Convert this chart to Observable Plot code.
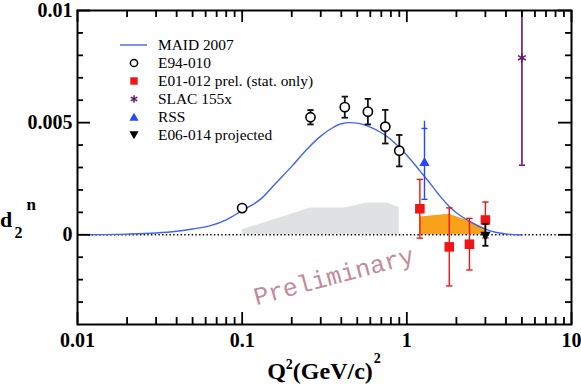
<!DOCTYPE html>
<html><head><meta charset="utf-8">
<script src="https://cdn.jsdelivr.net/npm/d3@7"></script>
<script src="https://cdn.jsdelivr.net/npm/@observablehq/plot@0.6"></script>
<style>
html,body{margin:0;padding:0;background:#fff;}
#chart svg{display:block;}
</style></head><body><div id="chart"></div>
<script>
// ---- data ----
// MAID 2007 model curve
const maidQ2 = [0.01, 0.02, 0.03, 0.04, 0.05, 0.065, 0.08, 0.1, 0.13, 0.16, 0.2, 0.25, 0.3, 0.35, 0.4, 0.45, 0.5, 0.6, 0.7, 0.8, 0.9, 1.0, 1.2, 1.4, 1.6, 1.8, 2.0, 2.4, 3.0, 3.5, 4.0, 5.0];
const maidD2 = [0.0, 0.00003, 0.00008, 0.00016, 0.00026, 0.00042, 0.00067, 0.00108, 0.0016, 0.0023, 0.00305, 0.00385, 0.0044, 0.00475, 0.00495, 0.005, 0.00498, 0.0048, 0.00455, 0.00425, 0.0039, 0.00355, 0.00285, 0.00225, 0.0017, 0.00128, 0.00098, 0.0006, 0.00025, 0.0001, 0.00004, -0.00001];
// E94-010 (open circles)
const e94Q2 = [0.1, 0.26, 0.42, 0.58, 0.74, 0.90];
const e94D2 = [0.00119, 0.00524, 0.00569, 0.00549, 0.00482, 0.00375];
const e94Err = [0.00004, 0.00032, 0.00047, 0.00057, 0.00075, 0.0007];
// E94-010 systematic band (grey)
const e94SysQ2 = [0.1, 0.26, 0.42, 0.574, 0.76, 0.9];
const e94SysD2 = [0.00022, 0.00119, 0.00119, 0.00142, 0.00142, 0.00122];
// E01-012 prel. (red squares)
const e01Q2 = [1.2, 1.81, 2.4, 3.0];
const e01D2 = [0.00116, -0.00054, -0.00042, 0.00066];
const e01Err = [0.00131, 0.00174, 0.00115, 0.0008];
// E01-012 systematic band (orange)
const e01SysQ2 = [1.2, 1.8, 2.4, 3.0];
const e01SysD2 = [0.00079, 0.00092, 0.00062, 0.00028];
// SLAC 155x
const slacQ2 = [5.0];
const slacD2 = [0.00789];
const slacLo = [0.0031];
const slacHi = [0.0127];
// RSS
const rssQ2 = [1.28];
const rssD2 = [0.0032];
const rssLo = [0.00158];
const rssHi = [0.00506];
const rssCapHi = [0.00474];
// E06-014 projected
const e06Q2 = [3.0];
const e06D2 = [0.0];
const e06Err = [0.00049];
// axes
const xMajor = [0.01, 0.1, 1, 10];
const xLabels = ["0.01", "0.1", "1", "10"];
const xMinor = [0.02,0.03,0.04,0.05,0.06,0.07,0.08,0.09,0.2,0.3,0.4,0.5,0.6,0.7,0.8,0.9,2,3,4,5,6,7,8,9];
const yMajor = [0, 0.005, 0.01];
const yLabels = ["0", "0.005", "0.01"];
const yMinor = [-0.003,-0.002,-0.001,0.001,0.002,0.003,0.004,0.006,0.007,0.008,0.009];
const legendLabels = ["MAID 2007", "E94-010", "E01-012 prel. (stat. only)", "SLAC 155x", "RSS", "E06-014 projected"];
const prelimText = ["Preliminary"];
const prelimQ2 = [0.36];
const prelimD2 = [-0.00185];

// ---- build ----
const serif = "'Liberation Serif','Times New Roman',serif";
const BLUE = "#4262f0", RED = "#f01414", PURPLE = "#66186a", RSSBLUE = "#2448ff";
const zip = (xs, ys, extra = {}) => xs.map((x, i) => {
  const o = {x, y: ys[i]};
  for (const k in extra) o[k] = extra[k][i];
  return o;
});
const maid = zip(maidQ2, maidD2);
const e94 = zip(e94Q2, e94D2, {e: e94Err});
const e94Sys = zip(e94SysQ2, e94SysD2);
const e01 = zip(e01Q2, e01D2, {e: e01Err});
const e01Sys = zip(e01SysQ2, e01SysD2);
const slac = zip(slacQ2, slacD2, {lo: slacLo, hi: slacHi});
const rss = zip(rssQ2, rssD2, {lo: rssLo, hi: rssHi, capHi: rssCapHi});
const e06 = zip(e06Q2, e06D2, {e: e06Err});
const prelim = zip(prelimQ2, prelimD2, {t: prelimText});

const capSymbol = {draw(ctx, size) { const w = Math.sqrt(size / Math.PI); ctx.moveTo(-w, 0); ctx.lineTo(w, 0); }};
const downTri = {draw(ctx, size) {
  const y = -Math.sqrt(size / (Math.sqrt(3) * 3));
  ctx.moveTo(0, -y * 2); ctx.lineTo(-Math.sqrt(3) * y, y); ctx.lineTo(Math.sqrt(3) * y, y); ctx.closePath();
}};

const W = 581, H = 388, mL = 77, mR = 10, mT = 10, mB = 64;
const pw = W - mL - mR, ph = H - mT - mB;

const errBars = (data, lo, hi, color, sw, capR) => [
  Plot.ruleX(data, {x: "x", y1: lo, y2: hi, stroke: color, strokeWidth: sw}),
  Plot.dot(data, {x: "x", y: lo, symbol: capSymbol, r: capR, stroke: color, strokeWidth: sw, fill: "none"}),
  Plot.dot(data, {x: "x", y: hi, symbol: capSymbol, r: capR, stroke: color, strokeWidth: sw, fill: "none"})
];

const svg = Plot.plot({
  width: W, height: H, marginLeft: mL, marginRight: mR, marginTop: mT, marginBottom: mB,
  x: {type: "log", domain: [0.01, 10]},
  y: {domain: [-0.004, 0.01], clamp: true},
  style: {fontFamily: serif, background: "#fff", color: "#000"},
  marks: [
    Plot.areaY(e94Sys, {x: "x", y: "y", fill: "#dfe2e2"}),
    Plot.areaY(e01Sys, {x: "x", y: "y", fill: "#f8a11a"}),
    Plot.ruleY([0], {stroke: "#000", strokeWidth: 1.5, strokeDasharray: "1.4,2.3"}),
    Plot.line(maid, {x: "x", y: "y", stroke: BLUE, strokeWidth: 1.4, curve: "monotone-x"}),
    // E94-010
    ...errBars(e94, d => d.y - d.e, d => d.y + d.e, "#111", 1.8, 3.2),
    Plot.dot(e94, {x: "x", y: "y", r: 4.6, stroke: "#000", strokeWidth: 1.6, fill: "#fff"}),
    // SLAC
    Plot.ruleX(slac, {x: "x", y1: "lo", y2: "hi", stroke: PURPLE, strokeWidth: 1.6}),
    Plot.dot(slac, {x: "x", y: "lo", symbol: capSymbol, r: 3, stroke: PURPLE, strokeWidth: 1.6, fill: "none"}),
    Plot.dot(slac, {x: "x", y: "y", symbol: "asterisk", r: 4.2, stroke: PURPLE, strokeWidth: 1.6}),
    // RSS
    Plot.ruleX(rss, {x: "x", y1: "lo", y2: "hi", stroke: RSSBLUE, strokeWidth: 1.4}),
    Plot.dot(rss, {x: "x", y: "lo", symbol: capSymbol, r: 3, stroke: RSSBLUE, strokeWidth: 1.4, fill: "none"}),
    Plot.dot(rss, {x: "x", y: "capHi", symbol: capSymbol, r: 3, stroke: RSSBLUE, strokeWidth: 1.4, fill: "none"}),
    Plot.dot(rss, {x: "x", y: "y", symbol: "triangle", r: 3.8, fill: RSSBLUE, stroke: "none"}),
    // E01-012
    ...errBars(e01, d => d.y - d.e, d => d.y + d.e, RED, 1.4, 3.2),
    Plot.dot(e01, {x: "x", y: "y", symbol: "square", r: 5.4, fill: RED, stroke: "none"}),
    // E06-014
    ...errBars(e06, d => d.y - d.e, d => d.y + d.e, "#000", 1.8, 3),
    Plot.dot(e06, {x: "x", y: "y", symbol: downTri, r: 3.8, fill: "#000", stroke: "none"}),
    // Preliminary watermark
    Plot.text(prelim, {x: "x", y: "y", text: "t", rotate: -15, fontSize: 25, fontFamily: "'Liberation Mono','Courier New',monospace", fill: "#c48a9c"}),
    // frame and inward ticks
    Plot.frame({stroke: "#000", strokeWidth: 2}),
    Plot.ruleX(xMajor, {x: d => d, insetTop: ph - 12, stroke: "#000", strokeWidth: 1.8}),
    Plot.ruleX(xMinor, {x: d => d, insetTop: ph - 7, stroke: "#000", strokeWidth: 1.8}),
    Plot.ruleX(xMajor, {x: d => d, insetBottom: ph - 12, stroke: "#000", strokeWidth: 1.8}),
    Plot.ruleX(xMinor, {x: d => d, insetBottom: ph - 7, stroke: "#000", strokeWidth: 1.8}),
    Plot.ruleY(yMajor, {y: d => d, insetRight: pw - 13, stroke: "#000", strokeWidth: 1.8}),
    Plot.ruleY(yMinor, {y: d => d, insetRight: pw - 6, stroke: "#000", strokeWidth: 1.8}),
    Plot.ruleY(yMajor, {y: d => d, insetLeft: pw - 13, stroke: "#000", strokeWidth: 1.8}),
    Plot.ruleY(yMinor, {y: d => d, insetLeft: pw - 6, stroke: "#000", strokeWidth: 1.8}),
    Plot.axisX({ticks: xMajor, tickFormat: d => xLabels[xMajor.indexOf(d)], tickSize: 0, tickPadding: 8, fontSize: 20, fontWeight: "bold", label: null}),
    Plot.axisY({ticks: yMajor, tickFormat: d => yLabels[yMajor.indexOf(d)], tickSize: 0, tickPadding: 5, fontSize: 20, fontWeight: "bold", label: null})
  ]
});
document.getElementById("chart").appendChild(svg);

// ---- axis titles and legend (overlay text) ----
const s = d3.select(svg);
const xl = s.append("text").attr("x", mL + pw / 2).attr("y", 379).attr("text-anchor", "middle")
  .attr("font-family", serif).attr("font-weight", "bold").attr("font-size", 24).attr("fill", "#000");
xl.append("tspan").text("Q");
xl.append("tspan").attr("font-size", 14).attr("dy", -10).text("2");
xl.append("tspan").attr("dy", 10).text("(GeV/c)");
xl.append("tspan").attr("font-size", 14).attr("dy", -16).attr("dx", 1).text("2");

const yl = s.append("g").attr("font-family", serif).attr("font-weight", "bold").attr("fill", "#000").attr("text-anchor", "start");
yl.append("text").attr("x", 0).attr("y", 227).attr("font-size", 22).text("d");
yl.append("text").attr("x", 14.5).attr("y", 238).attr("font-size", 16).text("2");
yl.append("text").attr("x", 26.5).attr("y", 210).attr("font-size", 17).text("n");

const lg = s.append("g").attr("font-family", serif).attr("text-anchor", "start");
const rowY = i => 45 + 18 * i;
const sx = 134;
lg.selectAll("text.lab").data(legendLabels).join("text").attr("class", "lab")
  .attr("x", 158).attr("y", (d, i) => rowY(i) + 5.2).attr("font-size", 15.4).attr("fill", "#000").text(d => d);
lg.append("line").attr("x1", 120).attr("x2", 147).attr("y1", rowY(0)).attr("y2", rowY(0)).attr("stroke", BLUE).attr("stroke-width", 1.4);
lg.append("circle").attr("cx", sx).attr("cy", rowY(1)).attr("r", 3.6).attr("fill", "#fff").attr("stroke", "#000").attr("stroke-width", 1.5);
lg.append("rect").attr("x", sx - 3.7).attr("y", rowY(2) - 3.7).attr("width", 7.4).attr("height", 7.4).attr("fill", RED);
lg.append("path").attr("transform", `translate(${sx},${rowY(3)})`).attr("d", d3.symbol(d3.symbolAsterisk, 40)()).attr("stroke", PURPLE).attr("stroke-width", 1.5).attr("fill", "none");
lg.append("path").attr("transform", `translate(${sx},${rowY(4) + 1})`).attr("d", d3.symbol(d3.symbolTriangle, 36)()).attr("fill", RSSBLUE);
lg.append("path").attr("transform", `translate(${sx},${rowY(5) - 1})`).attr("d", d3.symbol(downTri, 36)()).attr("fill", "#000");
</script>
</body></html>
